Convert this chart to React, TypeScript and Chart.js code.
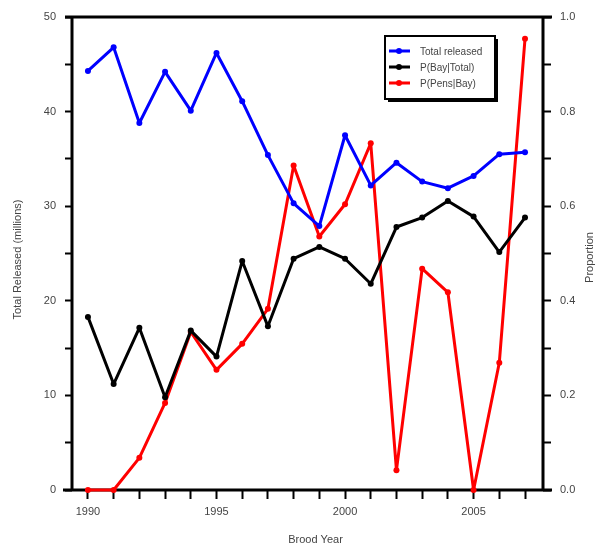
import React, { useEffect, useRef } from 'react';
import { Chart, registerables } from 'chart.js';

Chart.register(...registerables);

const years = [1990, 1991, 1992, 1993, 1994, 1995, 1996, 1997, 1998, 1999, 2000, 2001, 2002, 2003, 2004, 2005, 2006, 2007];
const totalReleased = [44.3, 46.8, 38.8, 44.2, 40.1, 46.2, 41.1, 35.4, 30.3, 27.9, 37.5, 32.2, 34.6, 32.6, 31.9, 33.2, 35.5, 35.7];
const pBayTotal = [0.366, 0.224, 0.343, 0.196, 0.337, 0.282, 0.484, 0.346, 0.489, 0.514, 0.489, 0.436, 0.556, 0.576, 0.611, 0.578, 0.503, 0.576];
const pPensBay = [0, 0, 0.068, 0.184, 0.334, 0.254, 0.309, 0.383, 0.686, 0.536, 0.604, 0.733, 0.042, 0.468, 0.418, 0, 0.269, 0.954];

const seriesNames = ['Total released', 'P(Bay|Total)', 'P(Pens|Bay)'];
const seriesColors = ['#0000ff', '#000000', '#ff0000'];

const xTicks = [1990, 1991, 1992, 1993, 1994, 1995, 1996, 1997, 1998, 1999, 2000, 2001, 2002, 2003, 2004, 2005, 2006, 2007];
const leftTicks = [0, 5, 10, 15, 20, 25, 30, 35, 40, 45, 50];
const rightTicks = [0, 0.1, 0.2, 0.3, 0.4, 0.5, 0.6, 0.7, 0.8, 0.9, 1.0];

const xTitle = 'Brood Year';
const leftTitle = 'Total Released (millions)';
const rightTitle = 'Proportion';

const FONT = '"Liberation Sans", Arial, sans-serif';
const TEXT_COLOR = '#444';

const framePlugin = {
  id: 'frame',
  beforeDatasetsDraw(chart: any) {
    const { ctx, chartArea } = chart;
    const { left, right, top, bottom } = chartArea;
    ctx.save();
    ctx.strokeStyle = '#000';
    ctx.lineWidth = 3;
    ctx.lineCap = 'butt';
    ctx.beginPath();
    ctx.moveTo(left - 7, top);
    ctx.lineTo(right + 9, top);
    ctx.moveTo(left, top);
    ctx.lineTo(left, bottom);
    ctx.moveTo(right, top);
    ctx.lineTo(right, bottom);
    ctx.moveTo(left - 9, bottom);
    ctx.lineTo(right + 9, bottom);
    ctx.stroke();
    ctx.restore();
  },
  afterDraw(chart: any) {
    const { ctx, chartArea } = chart;
    const { left, right, top, bottom } = chartArea;
    ctx.save();
    ctx.fillStyle = TEXT_COLOR;
    ctx.font = `11px ${FONT}`;
    ctx.textAlign = 'center';
    ctx.textBaseline = 'middle';
    ctx.fillText(xTitle, (left + right) / 2 + 8, 540);
    ctx.save();
    ctx.translate(18, (top + bottom) / 2 + 6);
    ctx.rotate(-Math.PI / 2);
    ctx.fillText(leftTitle, 0, 0);
    ctx.restore();
    ctx.save();
    ctx.translate(590, (top + bottom) / 2 + 4);
    ctx.rotate(-Math.PI / 2);
    ctx.fillText(rightTitle, 0, 0);
    ctx.restore();

    // legend box
    const bx = 385, by = 36, bw = 110, bh = 63;
    ctx.fillStyle = '#fff';
    ctx.fillRect(bx, by, bw, bh);
    ctx.strokeStyle = '#000';
    ctx.lineWidth = 2;
    ctx.strokeRect(bx, by, bw, bh);
    ctx.fillStyle = '#000';
    ctx.fillRect(bx + 3, by + bh, bw, 3);
    ctx.fillRect(bx + bw, by + 3, 3, bh);
    ctx.font = `10px ${FONT}`;
    ctx.textAlign = 'left';
    ctx.textBaseline = 'middle';
    for (let i = 0; i < seriesNames.length; i++) {
      const y = by + 15 + i * 16;
      ctx.strokeStyle = seriesColors[i];
      ctx.lineWidth = 3;
      ctx.beginPath();
      ctx.moveTo(bx + 4, y);
      ctx.lineTo(bx + 25, y);
      ctx.stroke();
      ctx.fillStyle = seriesColors[i];
      ctx.beginPath();
      ctx.arc(bx + 14, y, 3, 0, Math.PI * 2);
      ctx.fill();
      ctx.fillStyle = TEXT_COLOR;
      ctx.fillText(seriesNames[i], bx + 35, y + 1);
    }
    ctx.restore();
  },
};

export default function App() {
  const canvasRef = useRef<HTMLCanvasElement | null>(null);

  useEffect(() => {
    document.body.style.margin = '0';
    const canvas = canvasRef.current;
    if (!canvas) return;
    const tickFont = { family: FONT, size: 11 };
    const chart = new Chart(canvas, {
      type: 'line',
      data: {
        datasets: [
          {
            label: seriesNames[0],
            data: years.map((y, i) => ({ x: y, y: totalReleased[i] })),
            borderColor: seriesColors[0],
            backgroundColor: seriesColors[0],
            yAxisID: 'y',
          },
          {
            label: seriesNames[1],
            data: years.map((y, i) => ({ x: y, y: pBayTotal[i] })),
            borderColor: seriesColors[1],
            backgroundColor: seriesColors[1],
            yAxisID: 'y1',
          },
          {
            label: seriesNames[2],
            data: years.map((y, i) => ({ x: y, y: pPensBay[i] })),
            borderColor: seriesColors[2],
            backgroundColor: seriesColors[2],
            yAxisID: 'y1',
          },
        ],
      },
      options: {
        responsive: false,
        devicePixelRatio: 1,
        animation: false,
        layout: { padding: { top: 17, left: 0, right: 0, bottom: 0 } },
        elements: {
          line: { borderWidth: 3, tension: 0, borderJoinStyle: 'round', borderCapStyle: 'round' },
          point: { radius: 3, borderWidth: 0, hoverRadius: 3 },
        },
        datasets: { line: { clip: false } } as any,
        plugins: {
          legend: { display: false },
          tooltip: { enabled: false },
        },
        scales: {
          x: {
            type: 'linear',
            position: 'bottom',
            min: 1989.38,
            max: 2007.7,
            afterBuildTicks: (s: any) => {
              s.ticks = xTicks.map((v) => ({ value: v }));
            },
            afterFit: (s: any) => {
              s.height = 56;
            },
            ticks: {
              autoSkip: false,
              maxRotation: 0,
              color: TEXT_COLOR,
              font: tickFont,
              padding: 6,
              callback: (v: any) => (Number(v) % 5 === 0 ? String(v) : ''),
            },
            grid: { drawOnChartArea: false, drawTicks: true, tickLength: 9, tickWidth: 2, tickColor: '#000' },
            border: { display: false },
          },
          y: {
            type: 'linear',
            position: 'left',
            min: 0,
            max: 50,
            afterBuildTicks: (s: any) => {
              s.ticks = leftTicks.map((v) => ({ value: v }));
            },
            afterFit: (s: any) => {
              s.width = 72;
            },
            ticks: {
              color: TEXT_COLOR,
              font: tickFont,
              padding: 9,
              callback: (v: any) => (Number(v) % 10 === 0 ? String(v) : ''),
            },
            grid: { drawOnChartArea: false, drawTicks: true, tickLength: 7, tickWidth: 2, tickColor: '#000' },
            border: { display: false },
          },
          y1: {
            type: 'linear',
            position: 'right',
            min: 0,
            max: 1,
            afterBuildTicks: (s: any) => {
              s.ticks = rightTicks.map((v) => ({ value: v }));
            },
            afterFit: (s: any) => {
              s.width = 57;
            },
            ticks: {
              color: TEXT_COLOR,
              font: tickFont,
              padding: 9,
              callback: (v: any) => (Math.round(Number(v) * 10) % 2 === 0 ? Number(v).toFixed(1) : ''),
            },
            grid: { drawOnChartArea: false, drawTicks: true, tickLength: 8, tickWidth: 2, tickColor: '#000' },
            border: { display: false },
          },
        },
      },
      plugins: [framePlugin],
    });
    return () => chart.destroy();
  }, []);

  return (
    <div style={{ width: 600, height: 546 }}>
      <canvas ref={canvasRef} width={600} height={546} />
    </div>
  );
}
